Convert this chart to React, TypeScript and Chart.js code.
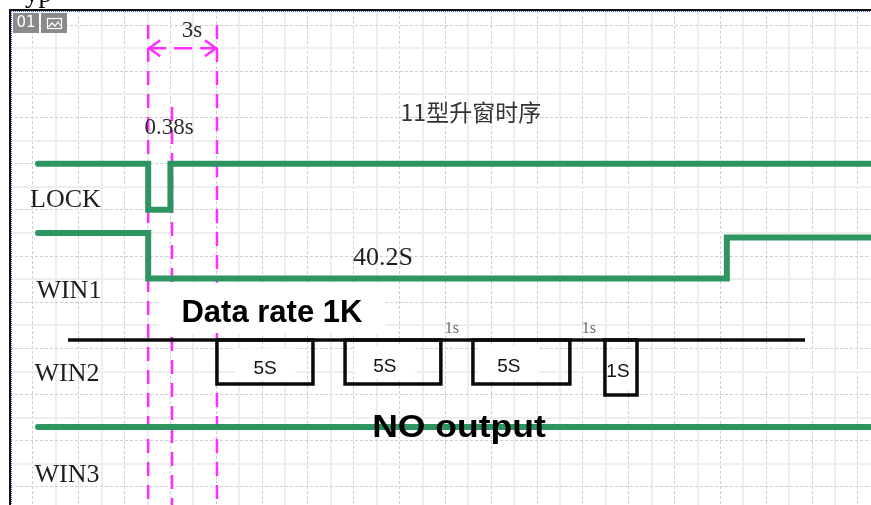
import { useEffect, useRef } from 'react';
import { Chart, registerables } from 'chart.js';

Chart.register(...registerables);

// Schematic axes: x = grid columns (left to right), y = grid rows (top to bottom)
const xMin = 0;
const xMax = 37.57;
const yMin = -0.61;
const yMax = 20.78;

// Signal traces (grid units)
const lockX = [1.22, 6.03, 6.03, 7.0, 7.0, 37.57];
const lockY = [6.0, 6.0, 8.0, 8.0, 6.0, 6.0];
const win1X = [1.22, 6.03, 6.03, 31.28, 31.28, 37.57];
const win1Y = [9.0, 9.0, 10.97, 10.97, 9.2, 9.2];
const win2X = [2.53, 34.69];
const win2Y = [13.64, 13.64];
// WIN2 pulse boxes hanging under the WIN2 line
const pulseStart = [9.03, 14.62, 20.2, 25.96];
const pulseEnd = [13.22, 18.8, 24.43, 27.36];
const pulseBottom = [15.54, 15.54, 15.54, 16.02];
const win3X = [1.22, 37.57];
const win3Y = [17.4, 17.4];

// Magenta timing markers
const markerX = [6.03, 7.07, 9.03];
const markerTop = [0.0, 3.55, 0.0];
const arrowX = [6.03, 9.03];
const arrowY = [1.0, 1.0];

// Annotation texts
const labelTexts = ['3s', '0.38s', '11型升窗时序', 'LOCK', 'WIN1', '40.2S', 'Data rate 1K', 'WIN2', '5S', '5S', '5S', '1S', '1s', '1s', 'NO output', 'WIN3'];
const labelX = [7.94, 6.94, 20.11, 2.42, 2.57, 16.27, 11.43, 2.49, 11.13, 16.36, 21.77, 26.53, 19.28, 25.26, 19.59, 2.49];
const labelY = [0.52, 4.72, 4.16, 7.88, 11.82, 10.39, 12.86, 15.41, 15.11, 15.02, 15.02, 15.24, 13.33, 13.33, 17.84, 19.78];
const labelKind = ['note', 'note', 'title', 'name', 'name', 'name', 'banner', 'name', 'box', 'box', 'box', 'boxSmall', 'tick', 'tick', 'banner2', 'name'];

type LabelStyle = { font: string; color: string; size: number; stretch?: number; mask?: [number, number, number] };
const STYLES: Record<string, LabelStyle> = {
  note: { font: '23px "Liberation Serif"', color: '#2b2b2b', size: 23 },
  title: { font: '23px "Noto Sans CJK SC"', color: '#333333', size: 23 },
  name: { font: '26px "Liberation Serif"', color: '#1e1e1e', size: 26 },
  banner: { font: 'bold 31px "Liberation Sans"', color: '#000000', size: 31, mask: [23, 17, 11] },
  banner2: { font: 'bold 32px "Liberation Sans"', color: '#000000', size: 32, stretch: 1.11 },
  box: { font: '19px "Liberation Sans"', color: '#111111', size: 19, mask: [19, 12, 7] },
  boxSmall: { font: '19px "Liberation Sans"', color: '#111111', size: 19, mask: [3, 14, 14] },
  tick: { font: '16px "Liberation Serif"', color: '#6a6a6a', size: 16 },
};

const GREEN = '#2e9460';
const MAGENTA = '#ff2eff';

const pts = (xs: number[], ys: number[]) => xs.map((x, i) => ({ x, y: ys[i] }));

const signal = (label: string, data: any[], color: string, width: number, cap = 'round') => ({
  label,
  kind: 'signal',
  data,
  borderColor: color,
  borderWidth: width,
  pointRadius: 0,
  fill: false,
  tension: 0,
  spanGaps: false,
  borderCapStyle: cap,
  borderJoinStyle: 'miter',
  order: 0,
});

const intsBetween = (a: number, b: number) => {
  const out: number[] = [];
  for (let v = Math.ceil(a); v <= Math.floor(b); v++) out.push(v);
  return out;
};

let masked = false;

const decor = {
  id: 'decor',
  beforeDraw(chart: any) {
    const { ctx, width, height } = chart;
    ctx.save();
    ctx.fillStyle = '#ffffff';
    ctx.fillRect(0, 0, width, height);
    ctx.restore();
  },
  beforeDatasetsDraw() {
    masked = false;
  },
  beforeDatasetDraw(chart: any, args: any) {
    const ds = chart.data.datasets[args.index];
    if (ds.kind !== 'signal' || masked) return;
    masked = true;
    const { ctx, scales } = chart;
    ctx.save();
    labelTexts.forEach((t, i) => {
      const st = STYLES[labelKind[i]];
      if (!st.mask) return;
      ctx.font = st.font;
      const w = ctx.measureText(t).width * (st.stretch || 1);
      const px = scales.x.getPixelForValue(labelX[i]);
      const py = scales.y.getPixelForValue(labelY[i]);
      const cap = st.size * 0.72;
      const [padX, padT, padB] = st.mask;
      ctx.fillStyle = '#ffffff';
      ctx.fillRect(px - w / 2 - padX, py - cap - padT, w + 2 * padX, cap + padT + padB);
    });
    ctx.restore();
  },
  afterDatasetsDraw(chart: any) {
    const { ctx, scales } = chart;
    ctx.save();
    // arrowheads
    const ay = scales.y.getPixelForValue(arrowY[0]);
    const ax0 = scales.x.getPixelForValue(arrowX[0]);
    const ax1 = scales.x.getPixelForValue(arrowX[1]);
    ctx.strokeStyle = MAGENTA;
    ctx.lineWidth = 2.5;
    ctx.beginPath();
    ctx.moveTo(ax0 + 12, ay - 8);
    ctx.lineTo(ax0 + 1, ay);
    ctx.lineTo(ax0 + 12, ay + 8);
    ctx.moveTo(ax1 - 12, ay - 8);
    ctx.lineTo(ax1 - 1, ay);
    ctx.lineTo(ax1 - 12, ay + 8);
    ctx.stroke();
    // labels
    ctx.textAlign = 'center';
    ctx.textBaseline = 'alphabetic';
    labelTexts.forEach((t, i) => {
      const st = STYLES[labelKind[i]];
      const px = scales.x.getPixelForValue(labelX[i]);
      const py = scales.y.getPixelForValue(labelY[i]);
      ctx.font = st.font;
      ctx.fillStyle = st.color;
      if (st.stretch) {
        ctx.save();
        ctx.translate(px, py);
        ctx.scale(st.stretch, 1);
        ctx.fillText(t, 0, 0);
        ctx.restore();
      } else {
        ctx.fillText(t, px, py);
      }
    });
    ctx.restore();
  },
  afterDraw(chart: any) {
    const { ctx, width, height } = chart;
    ctx.save();
    // strip above the frame
    ctx.fillStyle = '#ffffff';
    ctx.fillRect(0, 0, width, 9);
    ctx.fillRect(0, 0, 9, height);
    ctx.fillStyle = '#000000';
    ctx.font = '27px "Liberation Serif"';
    ctx.textAlign = 'left';
    ctx.textBaseline = 'alphabetic';
    ctx.fillText('yp', 25, 2);
    // frame
    ctx.fillStyle = '#111111';
    ctx.fillRect(9, 9, width - 9, 2);
    ctx.fillRect(9, 9, 2, height - 9);
    ctx.fillStyle = '#3f5fd6';
    for (let x = 11; x < width; x += 2) ctx.fillRect(x, 11, 1, 1);
    for (let y = 11; y < height; y += 2) ctx.fillRect(11, y, 1, 1);
    // toolbar icons
    ctx.fillStyle = '#8a8a8a';
    ctx.fillRect(13, 13, 26, 20);
    ctx.fillRect(41, 13, 26, 20);
    ctx.fillStyle = '#ffffff';
    ctx.font = '15px "DejaVu Sans"';
    ctx.textAlign = 'center';
    ctx.textBaseline = 'middle';
    ctx.fillText('01', 26, 23.5);
    ctx.strokeStyle = '#ffffff';
    ctx.lineWidth = 1.2;
    ctx.strokeRect(47.5, 18.5, 14, 10);
    ctx.beginPath();
    ctx.moveTo(48.5, 27);
    ctx.lineTo(52, 23);
    ctx.lineTo(55, 26);
    ctx.lineTo(58, 22);
    ctx.lineTo(61, 26);
    ctx.stroke();
    ctx.restore();
  },
};

export default function App() {
  const ref = useRef<HTMLCanvasElement>(null);

  useEffect(() => {
    const canvas = ref.current;
    if (!canvas) return;

    const markerSets = markerX.map((mx, i) => ({
      label: 'marker' + i,
      kind: 'marker',
      data: [{ x: mx, y: markerTop[i] }, { x: mx, y: yMax }],
      borderColor: MAGENTA,
      borderWidth: 2.5,
      borderDash: [14, 9],
      pointRadius: 0,
      fill: false,
      order: 1,
    }));

    const arrowSet = {
      label: 'arrow',
      kind: 'marker',
      data: pts(arrowX, arrowY),
      borderColor: MAGENTA,
      borderWidth: 2.5,
      borderDash: [18, 8],
      pointRadius: 0,
      fill: false,
      order: 1,
    };

    const pulseData: any[] = [];
    pulseStart.forEach((s, i) => {
      const top = win2Y[0];
      pulseData.push(
        { x: s, y: top },
        { x: s, y: pulseBottom[i] },
        { x: pulseEnd[i], y: pulseBottom[i] },
        { x: pulseEnd[i], y: top },
        { x: s, y: top },
        { x: (s + pulseEnd[i]) / 2, y: null },
      );
    });

    const datasets: any[] = [
      signal('LOCK', pts(lockX, lockY), GREEN, 6),
      signal('WIN1', pts(win1X, win1Y), GREEN, 6),
      signal('WIN2', pts(win2X, win2Y), '#0a0a0a', 3.5, 'butt'),
      signal('WIN2 pulses', pulseData, '#0a0a0a', 3.5, 'square'),
      signal('WIN3', pts(win3X, win3Y), GREEN, 6),
      ...markerSets,
      arrowSet,
    ];

    const gridScale = (axis: 'x' | 'y', parity: number, solid: boolean) => ({
      type: 'linear',
      axis,
      position: axis === 'x' ? 'bottom' : 'left',
      reverse: axis === 'y',
      min: axis === 'x' ? xMin : yMin,
      max: axis === 'x' ? xMax : yMax,
      ticks: { display: false },
      grid: {
        drawTicks: false,
        color: solid ? '#eeeeee' : '#cfcfcf',
        lineWidth: solid ? 2 : 1,
      },
      border: { display: false, dash: solid ? [] : [3, 2] },
      afterBuildTicks: (s: any) => {
        const lo = axis === 'x' ? xMin : yMin;
        const hi = axis === 'x' ? xMax : yMax;
        s.ticks = intsBetween(lo, hi)
          .filter((v) => Math.abs(v % 2) === parity)
          .map((v) => ({ value: v }));
      },
    });

    const chart = new Chart(canvas, {
      type: 'line',
      data: { datasets },
      options: {
        responsive: false,
        animation: false,
        devicePixelRatio: 1,
        events: [],
        layout: { padding: { left: 10, top: 11, right: 0, bottom: 0 } },
        plugins: {
          legend: { display: false },
          tooltip: { enabled: false },
          title: { display: false },
        },
        scales: {
          x: gridScale('x', 0, true),
          x2: gridScale('x', 1, false),
          y: gridScale('y', 1, true),
          y2: gridScale('y', 0, false),
        } as any,
      },
      plugins: [decor as any],
    } as any);

    return () => chart.destroy();
  }, []);

  return (
    <div style={{ position: 'absolute', left: 0, top: 0, width: 871, height: 505, background: '#ffffff' }}>
      <canvas ref={ref} width={871} height={505} style={{ display: 'block' }} />
    </div>
  );
}
